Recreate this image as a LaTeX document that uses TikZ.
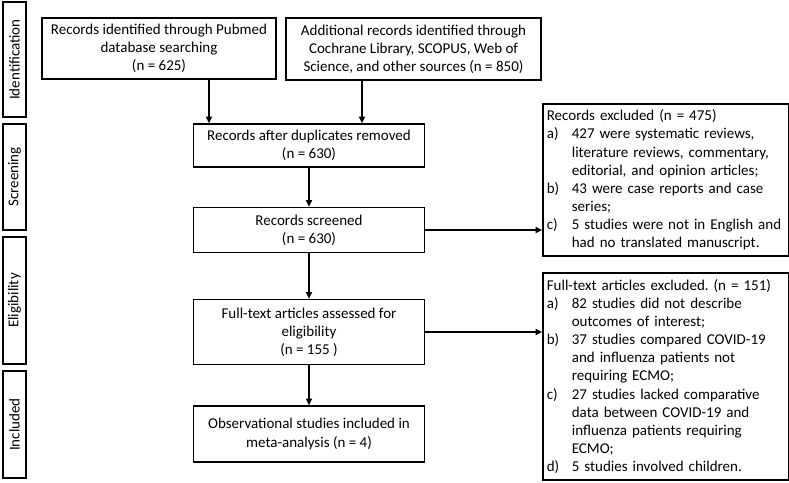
\documentclass[tikz,border=0pt]{standalone}
\usepackage{fontspec}
\setmainfont{Carlito}
\usetikzlibrary{arrows.meta}
\frenchspacing
\begin{document}
\begin{tikzpicture}[x=0.75pt,y=-0.75pt,
  every node/.style={font=\fontsize{11.25pt}{13.6pt}\selectfont},
  flowbox/.style={draw, line width=1pt, align=center, inner sep=2pt},
  sidebox/.style={draw, line width=1pt, rotate=90, inner sep=1pt, minimum height=17.25pt},
  exbox/.style={draw, line width=1pt, align=left, inner xsep=3pt, inner ysep=3pt, text width=178pt, minimum width=183.75pt},
  arr/.style={line width=1.4pt, -{Triangle[length=5pt,width=4.5pt]}}
]
\useasboundingbox (0,0) rectangle (789,482);
% side labels
\node[sidebox, minimum width=86.25pt] (ident) at (14.5,59.5) {Identification};
\node[sidebox, minimum width=79.5pt] (screen) at (14.5,177) {Screening};
\node[sidebox, minimum width=95.25pt] (elig) at (14.5,300.5) {Eligibility};
\node[sidebox, minimum width=80.25pt] (incl) at (14.5,424.5) {Included};
% main boxes
\node[flowbox, minimum width=175.5pt, minimum height=45.75pt] (pub) at (159,48.5)
  {Records identified through Pubmed\\database searching\\(n = 625)};
\node[flowbox, minimum width=191.25pt, minimum height=46.5pt] (add) at (413.5,49)
  {Additional records identified through\\Cochrane Library, SCOPUS, Web of\\Science, and other sources (n = 850)};
\node[flowbox, minimum width=173.25pt, minimum height=32.25pt] (dup) at (309,145.5)
  {Records after duplicates removed\\(n = 630)};
\node[flowbox, minimum width=173.25pt, minimum height=33.75pt] (scr) at (309,230)
  {Records screened\\(n = 630)};
\node[flowbox, minimum width=173.25pt, minimum height=48.75pt] (full) at (309,332)
  {Full-text articles assessed for\\eligibility\\(n = 155 )};
\node[flowbox, minimum width=173.25pt, minimum height=42pt] (obs) at (309,434)
  {Observational studies included in\\meta-analysis (n = 4)};
% exclusion boxes
\node[exbox, minimum height=114pt] (ex1) at (665.5,180)
  {Records excluded (n = 475)\\
   \makebox[18.75pt][l]{a)}427 were systematic reviews,\\
   \hspace*{18.75pt}literature reviews, commentary,\\
   \hspace*{18.75pt}editorial, and opinion articles;\\
   \makebox[18.75pt][l]{b)}43 were case reports and case\\
   \hspace*{18.75pt}series;\\
   \makebox[18.75pt][l]{c)}5 studies were not in English and\\
   \hspace*{18.75pt}had no translated manuscript.};
\node[exbox, minimum height=155.25pt] (ex2) at (665.5,376.5)
  {Full-text articles excluded. (n = 151)\\
   \makebox[18.75pt][l]{a)}82 studies did not describe\\
   \hspace*{18.75pt}outcomes of interest;\\
   \makebox[18.75pt][l]{b)}37 studies compared COVID-19\\
   \hspace*{18.75pt}and influenza patients not\\
   \hspace*{18.75pt}requiring ECMO;\\
   \makebox[18.75pt][l]{c)}27 studies lacked comparative\\
   \hspace*{18.75pt}data between COVID-19 and\\
   \hspace*{18.75pt}influenza patients requiring\\
   \hspace*{18.75pt}ECMO;\\
   \makebox[18.75pt][l]{d)}5 studies involved children.};
% connectors
\coordinate (p1) at (209,79);
\coordinate (a1) at (362,80);
\draw[arr] (p1 |- pub.south) -- (p1 |- dup.north);
\draw[arr] (a1 |- add.south) -- (a1 |- dup.north);
\draw[arr] (dup.south) -- (scr.north);
\draw[arr] (scr.south) -- (full.north);
\draw[arr] (full.south) -- (obs.north);
\draw[arr] (scr.east) -- (scr.east -| ex1.west);
\draw[arr] (full.east) -- (full.east -| ex2.west);
\end{tikzpicture}
\end{document}
